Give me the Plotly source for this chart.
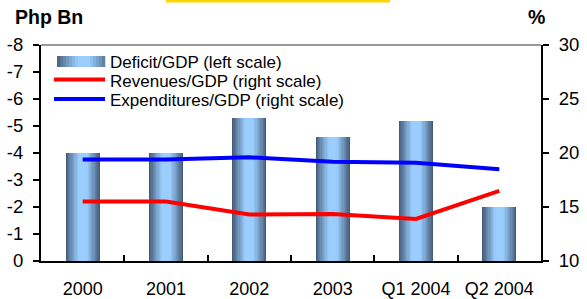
import plotly.graph_objects as go

categories = ["2000", "2001", "2002", "2003", "Q1 2004", "Q2 2004"]
deficit_gdp = [-4.0, -4.0, -5.3, -4.6, -5.2, -2.0]
revenues_gdp = [15.5, 15.5, 14.3, 14.35, 13.9, 16.5]
expenditures_gdp = [19.4, 19.4, 19.6, 19.2, 19.1, 18.5]
left_ticks = [0, -1, -2, -3, -4, -5, -6, -7, -8]
left_ticktext = ["0", "-1", "-2", "-3", "-4", "-5", "-6", "-7", "-8"]
right_ticks = [10, 15, 20, 25, 30]
legend_labels = ["Deficit/GDP (left scale)", "Revenues/GDP (right scale)",
                 "Expenditures/GDP (right scale)"]

W, H = 587, 299
L, R, T, B = 41, 541, 45, 261
FONT = "Arial, Liberation Sans, sans-serif"


def px(x):
    return (x - L) / (R - L)


def py(y):
    return (B - y) / (B - T)


DARK = (68, 92, 120)
LIGHT = (155, 206, 255)


def grad(s):
    s = min(1.0, max(0.0, s))
    f = s ** 0.9
    return "rgb(%d,%d,%d)" % tuple(round(d + (l - d) * f) for d, l in zip(DARK, LIGHT))


fig = go.Figure()

# cylinder-like gradient bars: overlaid bars of decreasing width
n_layers = 14
bar_w = 0.41
for i in range(n_layers):
    s = i / (n_layers - 1)
    w = bar_w * (1 - s * 0.93)
    fig.add_trace(go.Bar(
        x=categories, y=deficit_gdp, width=w, yaxis="y",
        marker=dict(color=grad(s / 0.8), line=dict(width=0)),
        showlegend=False,
    ))

fig.add_trace(go.Scatter(x=categories, y=revenues_gdp, yaxis="y2", mode="lines",
                         line=dict(color="#ff0000", width=4), showlegend=False))
fig.add_trace(go.Scatter(x=categories, y=expenditures_gdp, yaxis="y2", mode="lines",
                         line=dict(color="#0000ff", width=4), showlegend=False))

shapes = []
# top border line (gray)
shapes.append(dict(type="line", xref="paper", yref="paper", x0=0, x1=1, y0=1, y1=1,
                   line=dict(color="#999999", width=2), layer="below"))
# yellow strip at top
shapes.append(dict(type="rect", xref="paper", yref="paper", x0=px(166), x1=px(390),
                   y0=py(2.5), y1=py(0), fillcolor="#ffd400", line=dict(width=0)))
# legend gradient swatch
lx0, lx1 = 57, 105
nseg = 16
for k in range(nseg):
    xa = lx0 + (lx1 - lx0) * k / nseg
    xb = lx0 + (lx1 - lx0) * (k + 1) / nseg
    c = (k + 0.5) / nseg
    s = 1 - abs(c - 0.55) / 0.55
    shapes.append(dict(type="rect", xref="paper", yref="paper", x0=px(xa), x1=px(xb + 0.3),
                       y0=py(67), y1=py(56), fillcolor=grad(s / 0.8), line=dict(width=0)))
shapes.append(dict(type="line", xref="paper", yref="paper", x0=px(54), x1=px(105),
                   y0=py(79.5), y1=py(79.5), line=dict(color="#ff0000", width=4)))
shapes.append(dict(type="line", xref="paper", yref="paper", x0=px(54), x1=px(105),
                   y0=py(99), y1=py(99), line=dict(color="#0000ff", width=4)))

annotations = []
for label, yy in zip(legend_labels, [62, 81, 100]):
    annotations.append(dict(text=label, xref="paper", yref="paper", x=px(108), y=py(yy),
                            xanchor="left", yanchor="middle", showarrow=False,
                            font=dict(family=FONT, size=17, color="black")))
annotations.append(dict(text="<b>Php Bn</b>", xref="paper", yref="paper", x=px(13), y=py(17),
                        xanchor="left", yanchor="middle", showarrow=False,
                        font=dict(family=FONT, size=19.5, color="black")))
annotations.append(dict(text="<b>%</b>", xref="paper", yref="paper", x=px(526), y=py(17),
                        xanchor="left", yanchor="middle", showarrow=False,
                        font=dict(family=FONT, size=19.5, color="black")))

tickfont = dict(family=FONT, size=18.5, color="black")

fig.update_layout(
    width=W, height=H, autosize=False,
    margin=dict(l=L, r=W - R, t=T, b=H - B, pad=0, autoexpand=False),
    paper_bgcolor="white", plot_bgcolor="white",
    barmode="overlay", bargap=0,
    showlegend=False,
    shapes=shapes, annotations=annotations,
    xaxis=dict(type="category", range=[-0.5, 5.5], showgrid=False, zeroline=False,
               showline=True, linecolor="black", linewidth=2, automargin=False,
               ticks="inside", tickson="boundaries", ticklen=6, tickwidth=2, tickcolor="black",
               tickfont=dict(family=FONT, size=18, color="black"), ticklabelstandoff=10),
    yaxis=dict(range=[0, -8], tickvals=left_ticks, ticktext=left_ticktext, automargin=False,
               showgrid=False, zeroline=False, showline=True, linecolor="black", linewidth=2,
               ticks="outside", ticklen=6, tickwidth=2, tickcolor="black",
               tickfont=tickfont, ticklabelstandoff=6),
    yaxis2=dict(range=[10, 30], tickvals=right_ticks, overlaying="y", side="right",
                automargin=False,
                showgrid=False, zeroline=False, showline=True, linecolor="black", linewidth=2,
                ticks="outside", ticklen=6, tickwidth=2, tickcolor="black",
                tickfont=tickfont, ticklabelstandoff=6),
)

fig.write_html("out.html", config={"displayModeBar": False},
               post_script="document.body.style.margin='0';document.body.style.overflow='hidden';")
